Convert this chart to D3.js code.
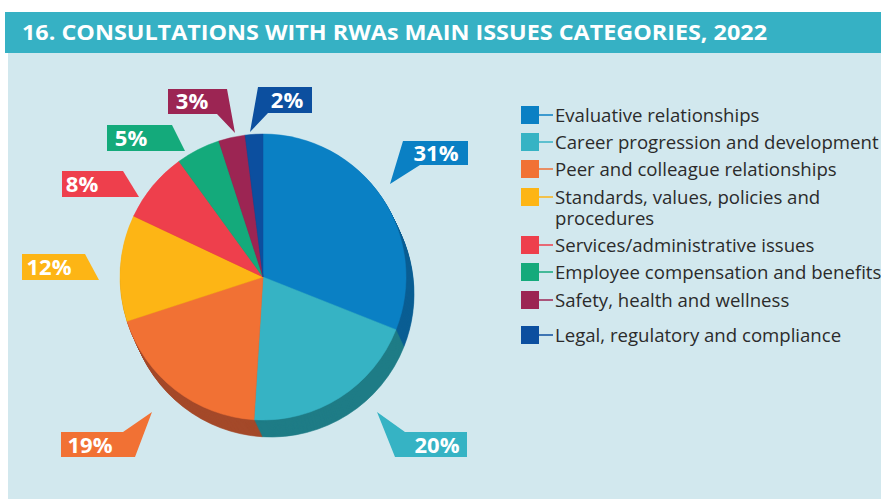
<!DOCTYPE html>
<html><head><meta charset="utf-8">
<script src="https://cdn.jsdelivr.net/npm/d3@7"></script>
<style>html,body{margin:0;padding:0;background:#fff;}svg{display:block;}</style>
</head><body>
<svg id="chart" width="881" height="499"></svg>
<script>
// ---- data ----
const title = "16. CONSULTATIONS WITH RWAs MAIN ISSUES CATEGORIES, 2022";
const categories = [
  "Evaluative relationships",
  "Career progression and development",
  "Peer and colleague relationships",
  "Standards, values, policies and procedures",
  "Services/administrative issues",
  "Employee compensation and benefits",
  "Safety, health and wellness",
  "Legal, regulatory and compliance"
];
const values = [31, 20, 19, 12, 8, 5, 3, 2];
const legendLines = [
  ["Evaluative relationships"],
  ["Career progression and development"],
  ["Peer and colleague relationships"],
  ["Standards, values, policies and", "procedures"],
  ["Services/administrative issues"],
  ["Employee compensation and benefits"],
  ["Safety, health and wellness"],
  ["Legal, regulatory and compliance"]
];

// ---- styles ----
const colors = ["#0A80C4", "#36B3C4", "#F17134", "#FDB515", "#EE3F4C", "#14AA7B", "#9C2553", "#0C4F9F"];
const sideColors = ["#0A5E93", "#1F7C86", "#A4492A", "#B07E10", "#A62C35", "#0E7756", "#6D1A3A", "#08376F"];

const svg = d3.select("#chart");
const W = 881, H = 499;

// panel background
svg.append("rect").attr("x", 0).attr("y", 0).attr("width", W).attr("height", H).attr("fill", "#ffffff");
svg.append("rect").attr("x", 8).attr("y", 53).attr("width", W - 8).attr("height", H - 53).attr("fill", "#D2E8EE");
// title bar
svg.append("rect").attr("x", 5).attr("y", 12).attr("width", W - 5).attr("height", 41).attr("fill", "#36B1C4");
svg.append("text").attr("x", 22).attr("y", 40)
  .attr("font-family", "'Open Sans', sans-serif").attr("font-weight", 700).attr("font-size", 21)
  .attr("fill", "#ffffff").attr("textLength", 745).attr("lengthAdjust", "spacingAndGlyphs")
  .text(title);

// ---- pie ----
const cx = 263, cy = 277, R = 143;
const depthX = 8, depthY = 17;
const pieData = d3.pie().sort(null).value(d => d)(values);
const arc = d3.arc().innerRadius(0).outerRadius(R);

// side (extrusion): stacked offset copies
const steps = 18;
for (let s = steps; s >= 1; s--) {
  const t = s / steps;
  const g = svg.append("g").attr("transform", `translate(${cx + depthX * t},${cy + depthY * t})`);
  g.selectAll("path").data(pieData).join("path")
    .attr("d", arc).attr("fill", (d, i) => sideColors[i]).attr("stroke", (d, i) => sideColors[i]).attr("stroke-width", 0.6);
}
const topFace = svg.append("g").attr("transform", `translate(${cx},${cy})`);
topFace.selectAll("path").data(pieData).join("path")
  .attr("d", arc).attr("fill", (d, i) => colors[i]).attr("stroke", (d, i) => colors[i]).attr("stroke-width", 0.5);

// ---- callouts (layout only) ----
const callouts = [
  {pts: [[403,141],[468,141],[468,165],[420,165],[390,184]], tx: 436, ty: 153},
  {pts: [[405,432],[467,432],[467,457],[395,457],[377,412]], tx: 437, ty: 445},
  {pts: [[61,432],[123,432],[152,412],[135,457],[61,457]], tx: 90, ty: 445},
  {pts: [[22,254],[85,254],[99,280],[22,280]], tx: 49, ty: 267},
  {pts: [[62,171],[123,171],[139,197],[62,197]], tx: 82, ty: 184},
  {pts: [[107,125],[172,125],[185,151],[107,151]], tx: 131, ty: 138},
  {pts: [[168,89],[227,89],[235,133],[217,114],[168,114]], tx: 192, ty: 101.5},
  {pts: [[258,87],[312,87],[312,113],[268,113],[250,132]], tx: 287, ty: 100}
];
const cg = svg.append("g");
values.forEach((v, i) => {
  const c = callouts[i];
  cg.append("polygon").attr("points", c.pts.map(p => p.join(",")).join(" ")).attr("fill", colors[i]);
  cg.append("text").attr("x", c.tx).attr("y", c.ty).attr("dy", "0.36em")
    .attr("text-anchor", "middle").attr("font-family", "'Open Sans', sans-serif")
    .attr("font-weight", 700).attr("font-size", 22).attr("fill", "#ffffff")
    .text(v + "%");
});

// ---- legend ----
const rowY = [115, 142, 169, 197, 245, 272, 300, 335];
const lg = svg.append("g");
categories.forEach((c, i) => {
  const y = rowY[i];
  lg.append("rect").attr("x", 521).attr("y", y - 9).attr("width", 18).attr("height", 18).attr("fill", colors[i]);
  lg.append("line").attr("x1", 539).attr("x2", 553).attr("y1", y).attr("y2", y)
    .attr("stroke", colors[i]).attr("stroke-width", 1.5);
  const t = lg.append("text").attr("x", 555).attr("y", y + 6.5)
    .attr("font-family", "'Open Sans', sans-serif").attr("font-size", 18.6)
    .attr("fill", "#2b2b2b");
  legendLines[i].forEach((ln, k) => {
    t.append("tspan").attr("x", 555).attr("dy", k === 0 ? 0 : 21.5).text(ln);
  });
});
</script>
</body></html>
